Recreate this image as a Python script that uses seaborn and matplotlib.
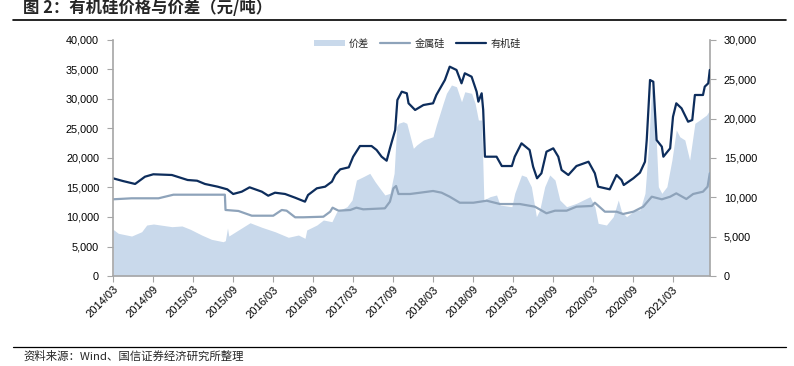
import matplotlib
matplotlib.use("Agg")
import matplotlib.pyplot as plt
import matplotlib.dates as mdates
from matplotlib.patches import Patch
from matplotlib.lines import Line2D
from matplotlib.ticker import FuncFormatter
import seaborn as sns
import pandas as pd

# ---------------- data ----------------
org_dates = ["2014-03-01","2014-04-15","2014-06-10","2014-07-25","2014-09-01","2014-11-25","2015-02-05",
             "2015-03-20","2015-04-25","2015-06-22","2015-08-05","2015-09-01","2015-10-10","2015-11-15",
             "2016-01-10","2016-02-08","2016-03-10","2016-04-25","2016-06-10","2016-07-25","2016-08-08",
             "2016-09-17","2016-10-25","2016-11-25","2016-12-10","2017-01-02","2017-02-10","2017-03-02",
             "2017-04-02","2017-05-25","2017-06-17","2017-07-10","2017-08-02","2017-08-17","2017-09-10",
             "2017-09-20","2017-10-10","2017-11-02","2017-11-10","2017-12-10","2018-01-17","2018-03-02",
             "2018-03-17","2018-04-25","2018-05-17","2018-06-17","2018-07-10","2018-07-25","2018-08-25",
             "2018-09-17","2018-09-25","2018-10-10","2018-10-17","2018-10-25","2018-12-17","2019-01-10",
             "2019-02-25","2019-03-10","2019-04-10","2019-05-17","2019-06-02","2019-06-20","2019-07-10",
             "2019-08-02","2019-09-02","2019-09-25","2019-10-10","2019-11-10","2019-12-17","2020-02-10",
             "2020-03-10","2020-03-25","2020-05-17","2020-06-17","2020-07-10","2020-07-20","2020-09-02",
             "2020-10-02","2020-10-25","2020-11-02","2020-11-17","2020-12-02","2020-12-17","2021-01-10",
             "2021-01-17","2021-02-17","2021-03-02","2021-03-17","2021-04-10","2021-05-10","2021-05-29",
             "2021-06-10","2021-07-17","2021-07-25","2021-08-10","2021-08-17"]
org_vals = [16560,16100,15600,16830,17240,17120,16270,
            16150,15600,15140,14690,13900,14290,15030,
            14290,13610,14120,13900,13270,12600,13730,
            14860,15140,15990,17120,18080,18420,20220,
            22030,22030,21360,20220,19540,21640,24750,
            29830,31240,30970,29270,28140,28980,29270,
            30680,33220,35480,34920,32660,34360,33780,
            31240,29550,30970,28140,20220,20220,18640,
            18640,20220,22490,21360,18530,16560,17410,
            21070,21640,20220,17970,17120,18640,19370,
            17410,15140,14690,17120,16270,15420,16560,
            17510,19370,23050,33220,32930,23050,21920,
            20220,21640,27000,29270,28420,26150,26440,
            30680,30680,32090,32660,34920]

metal_dates = ["2014-03-01","2014-05-25","2014-09-25","2014-10-25","2014-12-02","2015-07-25","2015-07-28",
               "2015-09-25","2015-11-25","2016-03-02","2016-04-10","2016-05-02","2016-06-10","2016-07-17",
               "2016-10-17","2016-11-17","2016-11-28","2016-12-25","2017-02-17","2017-03-17","2017-04-17",
               "2017-07-25","2017-08-17","2017-09-02","2017-09-14","2017-09-25","2017-11-17","2018-01-02",
               "2018-03-02","2018-04-10","2018-05-17","2018-07-02","2018-09-02","2018-11-02","2019-01-02",
               "2019-04-02","2019-06-10","2019-08-02","2019-09-10","2019-11-02","2019-12-17","2020-02-25",
               "2020-03-10","2020-04-25","2020-06-17","2020-07-17","2020-09-02","2020-10-17","2020-11-25",
               "2021-01-10","2021-02-17","2021-03-17","2021-05-02","2021-06-02","2021-07-17","2021-08-07",
               "2021-08-17"]
metal_vals = [13000,13170,13170,13440,13780,13780,11190,
              11020,10220,10220,11190,11070,9950,9950,
              10050,10900,11580,11070,11190,11580,11300,
              11470,12600,14860,15250,13900,13900,14120,
              14410,14120,13440,12420,12420,12760,12200,
              12200,11750,10630,11070,11070,11750,11870,
              12420,10900,10900,10510,10900,11750,13440,
              13000,13440,14010,13050,13900,14290,15140,
              17410]

spread_dates = ["2014-03-01","2014-03-25","2014-05-25","2014-07-10","2014-08-02","2014-09-02","2014-11-25",
                "2015-01-10","2015-02-17","2015-04-10","2015-05-25","2015-07-17","2015-07-27","2015-08-06",
                "2015-08-12","2015-09-25","2015-11-17","2016-01-10","2016-03-10","2016-05-10","2016-06-25",
                "2016-07-25","2016-08-02","2016-09-17","2016-10-17","2016-11-25","2016-12-17","2017-02-02",
                "2017-02-25","2017-03-17","2017-04-17","2017-05-17","2017-06-10","2017-07-02","2017-07-25",
                "2017-08-17","2017-09-05","2017-09-17","2017-09-25","2017-10-17","2017-11-02","2017-11-10",
                "2017-12-02","2017-12-17","2018-01-17","2018-03-02","2018-03-17","2018-04-17","2018-05-02",
                "2018-05-25","2018-06-17","2018-07-10","2018-07-25","2018-08-25","2018-09-10","2018-09-25",
                "2018-10-10","2018-10-20","2018-11-17","2018-12-17","2019-01-02","2019-02-25","2019-03-10",
                "2019-04-10","2019-05-02","2019-05-25","2019-06-17","2019-07-02","2019-07-25","2019-08-17",
                "2019-09-10","2019-10-02","2019-11-02","2019-12-17","2020-01-17","2020-02-17","2020-03-10",
                "2020-03-25","2020-05-02","2020-06-02","2020-06-25","2020-07-10","2020-08-02","2020-09-10",
                "2020-10-02","2020-10-25","2020-11-10","2020-11-25","2020-12-10","2020-12-25","2021-01-10",
                "2021-02-02","2021-02-25","2021-03-17","2021-04-02","2021-04-25","2021-05-17","2021-06-10",
                "2021-07-02","2021-08-02","2021-08-17"]
spread_vals = [5940,5430,5080,5630,6480,6610,6270,
               6360,5940,5210,4660,4360,4490,6100,
               5080,5850,6770,6190,5630,4920,5210,
               4790,5850,6480,7120,6900,8170,8810,
               9660,12200,12620,13050,11990,11150,10300,
               10510,13050,18980,19410,19610,19410,18560,
               16230,16650,17290,17700,19190,21950,23220,
               24280,24060,22150,23420,23220,21950,19830,
               19830,9660,10080,10300,9020,8810,10510,
               12840,12620,11350,7540,8390,11350,12840,
               12200,9660,8810,9240,9660,10080,8810,
               6700,6480,7540,9660,8170,7540,8390,
               8390,10510,16430,24060,20680,11350,10510,
               11350,14740,18560,17700,17290,14740,19410,
               19830,20460,21100]

x_tick_dates = pd.date_range("2014-03-01", "2021-03-01", freq="6MS")
left_ticks = list(range(0, 40001, 5000))
right_ticks = list(range(0, 30001, 5000))

title_text = "图 2：有机硅价格与价差（元/吨）"
source_text = "资料来源：Wind、国信证券经济研究所整理"
legend_labels = ["价差", "金属硅", "有机硅"]

# ---------------- style ----------------
sns.set_style("white")
plt.rcParams["font.family"] = ["Liberation Sans", "Noto Sans CJK SC"]
plt.rcParams["axes.unicode_minus"] = False

c_area = "#c9d9eb"
c_metal = "#8ea3ba"
c_org = "#0d2d5c"
c_axis = "#a6a6a6"

org = pd.DataFrame({"date": pd.to_datetime(org_dates), "val": org_vals})
metal = pd.DataFrame({"date": pd.to_datetime(metal_dates), "val": metal_vals})
spread = pd.DataFrame({"date": pd.to_datetime(spread_dates), "val": spread_vals})

fig = plt.figure(figsize=(7.94, 3.66), dpi=100)
ax = fig.add_axes([113/794, 1-276/366, (710-113)/794, (276-40)/366])
ax2 = ax.twinx()

# area on right axis
ax2.fill_between(spread["date"], 0, spread["val"], color=c_area, linewidth=0)
# lines on left axis
sns.lineplot(data=metal, x="date", y="val", ax=ax, color=c_metal, linewidth=1.6, legend=False)
sns.lineplot(data=org, x="date", y="val", ax=ax, color=c_org, linewidth=1.6, legend=False)

ax.set_zorder(ax2.get_zorder() + 1)
ax.patch.set_visible(False)

xmin, xmax = pd.Timestamp("2014-03-01"), pd.Timestamp("2021-08-18")
ax.set_xlim(xmin, xmax)
ax2.set_xlim(xmin, xmax)
ax.set_ylim(0, 40000)
ax2.set_ylim(0, 30000)
ax.set_yticks(left_ticks)
ax2.set_yticks(right_ticks)
fmt = FuncFormatter(lambda v, p: f"{int(v):,}")
ax.yaxis.set_major_formatter(fmt)
ax2.yaxis.set_major_formatter(fmt)
ax.set_xticks(x_tick_dates)
ax.xaxis.set_major_formatter(mdates.DateFormatter("%Y/%m"))
ax.set_xlabel("")
ax.set_ylabel("")
ax2.set_ylabel("")

for a in (ax, ax2):
    for s in a.spines.values():
        s.set_visible(False)
ax.spines["left"].set_visible(True)
ax.spines["bottom"].set_visible(True)
ax2.spines["right"].set_visible(True)
for s in (ax.spines["left"], ax.spines["bottom"], ax2.spines["right"]):
    s.set_color(c_axis)
    s.set_linewidth(1.2)

ax.tick_params(axis="y", direction="out", length=4, width=0.8, color=c_axis, labelsize=7.8,
               labelcolor="#000000", pad=6, left=True)
ax2.tick_params(axis="y", direction="out", length=4, width=0.8, color=c_axis, labelsize=7.8,
                labelcolor="#000000", pad=6, right=True)
ax.tick_params(axis="x", direction="out", length=4, width=0.8, color=c_axis, labelsize=8,
               labelcolor="#000000", pad=2, bottom=True)
for lab in ax.get_xticklabels():
    lab.set_rotation(45)
    lab.set_ha("right")
    lab.set_rotation_mode("anchor")

handles = [Patch(facecolor=c_area, edgecolor="none"),
           Line2D([], [], color=c_metal, linewidth=1.6),
           Line2D([], [], color=c_org, linewidth=1.6)]
ax.legend(handles, legend_labels, loc="center", bbox_to_anchor=(0.51, 0.985), ncol=3,
          frameon=False, handlelength=3.0, handleheight=0.5, columnspacing=1.1,
          handletextpad=0.4, prop={"family": ["Noto Sans CJK SC"], "size": 7.3})

# title, rules, source
fig.text(23/794, 1-8/366, title_text, fontsize=11.8, fontweight="bold", va="center", ha="left",
         family=["Noto Sans CJK SC"])
fig.add_artist(Line2D([13/794, 786/794], [1-20/366, 1-20/366], color="#000000", linewidth=1.2))
fig.add_artist(Line2D([13/794, 786/794], [1-347/366, 1-347/366], color="#000000", linewidth=0.9))
fig.text(23/794, 1-356/366, source_text, fontsize=8.2, va="center", ha="left",
         family=["Noto Sans CJK SC"])

fig.savefig("out.png", dpi=100)
